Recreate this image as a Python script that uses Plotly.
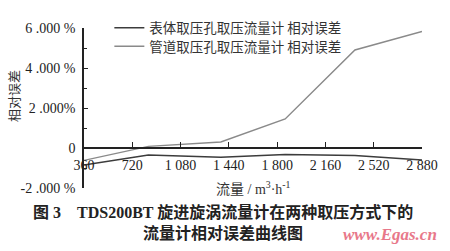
import plotly.graph_objects as go

flow = [360, 840, 1380, 1860, 2380, 2880]
body_err = [-0.85, -0.35, -0.46, -0.32, -0.38, -0.60]
pipe_err = [-0.62, 0.08, 0.30, 1.45, 4.90, 5.83]

x_tickvals = [360, 720, 1080, 1440, 1800, 2160, 2520, 2880]
x_ticktext = ["360", "720", "1 080", "1 440", "1 800", "2 160", "2 520", "2 880"]
y_tickvals = [-2, 0, 2, 4, 6]
y_ticktext = ["-2 .000 %", "0", "2 .000%", "4 .000 %", "6 .000 %"]

name_body = "表体取压孔取压流量计 相对误差"
name_pipe = "管道取压孔取压流量计 相对误差"

serif = "Liberation Serif, Noto Sans CJK SC"
cjk = "Noto Sans CJK SC"

fig = go.Figure()
fig.add_trace(go.Scatter(x=flow, y=body_err, mode="lines", name=name_body,
                         line=dict(color="#3c3c3c", width=1.5), legend="legend"))
fig.add_trace(go.Scatter(x=flow, y=pipe_err, mode="lines", name=name_pipe,
                         line=dict(color="#8a8a8a", width=1.4), legend="legend2"))

leg_common = dict(xanchor="left", yanchor="middle", bgcolor="rgba(0,0,0,0)",
                  font=dict(family=cjk, size=13.5, color="#333"), itemwidth=30)

fig.update_layout(
    width=450, height=251,
    margin=dict(l=84, r=21, t=15, b=63),
    paper_bgcolor="white", plot_bgcolor="white",
    showlegend=True,
    legend=dict(x=0.075, y=(188 - 15) / 173, **leg_common),
    legend2=dict(x=0.075, y=(188 - 35) / 173, **leg_common),
    xaxis=dict(range=[360, 2880], tickvals=x_tickvals, ticktext=x_ticktext,
               ticks="inside", ticklen=5, tickcolor="#222", tickwidth=1.2,
               showline=True, linecolor="#222", linewidth=1.5,
               showgrid=False, zeroline=False, anchor="free", position=0.25,
               ticklabelstandoff=4,
               tickfont=dict(family=serif, size=14, color="#222")),
    yaxis=dict(range=[-2, 6], tickvals=y_tickvals, ticktext=y_ticktext,
               ticks="inside", ticklen=4, tickcolor="#222", tickwidth=1.2,
               minor=dict(ticks="inside", tickvals=[-1, 1, 3, 5], ticklen=3, tickcolor="#222"),
               showline=True, linecolor="#222", linewidth=1.5,
               showgrid=False, zeroline=False,
               ticklabelstandoff=4,
               tickfont=dict(family=serif, size=14, color="#222")),
)

annotations = [
    dict(text="相对误差", x=12, y=88, textangle=-90,
         font=dict(family=cjk, size=13, color="#333")),
    dict(text="流量 / m<sup>3</sup>·h<sup>-1</sup>", x=257, y=188,
         font=dict(family=serif, size=14, color="#333")),
    dict(text="<b>图 3    TDS200BT 旋进旋涡流量计在两种取压方式下的</b>", x=226, y=214,
         font=dict(family=serif, size=16, color="#222")),
    dict(text="<b>流量计相对误差曲线图</b>", x=226, y=236,
         font=dict(family=cjk, size=16, color="#222")),
    dict(text="<i><b>www.Egas.cn</b></i>", x=396, y=238,
         font=dict(family="Liberation Serif", size=17, color="#e8788a")),
]
# convert pixel positions to paper coords
pw, ph = 450 - 84 - 21, 251 - 15 - 63
for a in annotations:
    px, py = a["x"], a["y"]
    a["x"] = (px - 84) / pw
    a["y"] = (251 - 63 - py) / ph
    a["xref"] = "paper"; a["yref"] = "paper"
    a["xanchor"] = "center"; a["yanchor"] = "middle"
    a["showarrow"] = False
fig.update_layout(annotations=annotations)

fig.write_html("out.html")
